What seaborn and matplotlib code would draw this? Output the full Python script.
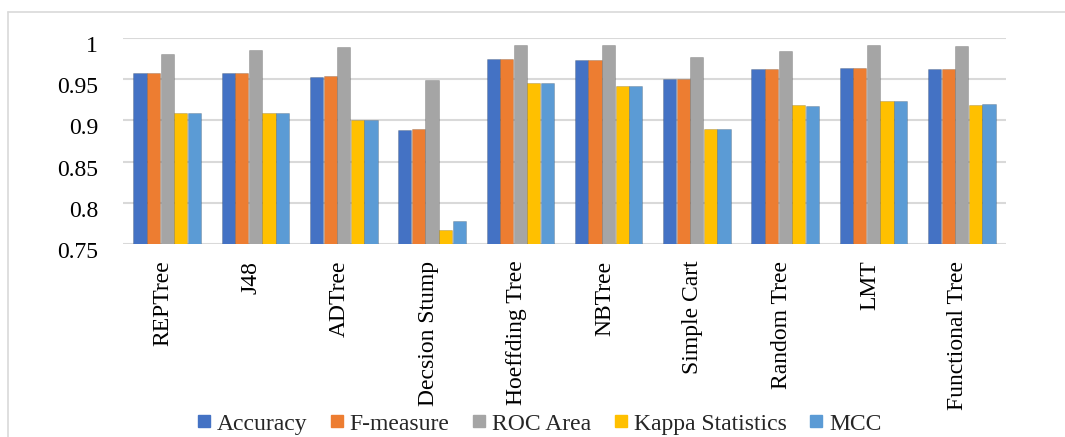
import matplotlib
matplotlib.use("Agg")
import matplotlib.pyplot as plt
import matplotlib.transforms as mtransforms
from matplotlib.lines import Line2D
import seaborn as sns
import pandas as pd

classifiers = ["REPTree", "J48", "ADTree", "Decsion Stump", "Hoeffding Tree",
               "NBTree", "Simple Cart", "Random Tree", "LMT", "Functional Tree"]
metrics = ["Accuracy", "F-measure", "ROC Area", "Kappa Statistics", "MCC"]

accuracy = [0.958, 0.958, 0.953, 0.888, 0.974, 0.973, 0.950, 0.963, 0.964, 0.963]
f_measure = [0.958, 0.958, 0.954, 0.890, 0.974, 0.973, 0.950, 0.963, 0.964, 0.963]
roc_area = [0.980, 0.985, 0.989, 0.949, 0.992, 0.991, 0.977, 0.984, 0.991, 0.990]
kappa = [0.909, 0.909, 0.900, 0.767, 0.945, 0.942, 0.890, 0.919, 0.923, 0.919]
mcc = [0.909, 0.909, 0.900, 0.778, 0.945, 0.942, 0.890, 0.918, 0.923, 0.920]

colors = ["#4472C4", "#ED7D31", "#A5A5A5", "#FFC000", "#5B9BD5"]

series = [accuracy, f_measure, roc_area, kappa, mcc]
df = pd.DataFrame(
    [(c, m, v) for m, vals in zip(metrics, series) for c, v in zip(classifiers, vals)],
    columns=["Classifier", "Metric", "Value"],
)

sns.set_theme(style="white")
plt.rcParams["font.family"] = ["Liberation Serif", "DejaVu Serif"]

fig = plt.figure(figsize=(10.65, 4.37), dpi=100)
ax = fig.add_axes([0.1155, 0.4416, 0.829, 0.4714])

sns.barplot(data=df, x="Classifier", y="Value", hue="Metric",
            order=classifiers, hue_order=metrics, palette=colors,
            saturation=1, width=0.77, gap=0.03, ax=ax, legend=False,
            edgecolor="#00000030", linewidth=0.6, zorder=3)

ax.set_ylim(0.75, 1.0)
ax.set_yticks([0.75, 0.8, 0.85, 0.9, 0.95, 1.0])
ax.set_yticklabels(["0.75", "0.8", "0.85", "0.9", "0.95", "1"])
ax.yaxis.grid(True, color="#d9d9d9", linewidth=1.5, zorder=0)
ax.set_axisbelow(True)
for s in ax.spines.values():
    s.set_visible(False)
ax.set_xlabel("")
ax.set_ylabel("")
ax.tick_params(axis="y", length=0, pad=18, labelsize=17, labelcolor="black")
ax.tick_params(axis="x", length=0, pad=12, labelsize=17, labelcolor="black")
for lbl in ax.get_yticklabels():
    lbl.set_fontfamily(["Liberation Serif", "DejaVu Serif"])
    lbl.set_transform(lbl.get_transform() +
                      mtransforms.ScaledTranslation(0, -6 / 100, fig.dpi_scale_trans))
for lbl in ax.get_xticklabels():
    lbl.set_rotation(90)
    lbl.set_va("top")
    lbl.set_ha("center")
    lbl.set_transform(lbl.get_transform() +
                      mtransforms.ScaledTranslation(-4 / 100, 0, fig.dpi_scale_trans))

handles = [Line2D([0], [0], marker="s", linestyle="", markersize=8,
                  markerfacecolor=c, markeredgecolor=c) for c in colors]
fig.legend(handles, metrics, loc="center", bbox_to_anchor=(0.506, 0.03),
           ncol=5, frameon=False, fontsize=17, handlelength=0.6,
           handletextpad=0.25, columnspacing=0.95, borderpad=0)

# thin outer frame on the left and top
fig.add_artist(Line2D([8 / 1065, 8 / 1065], [0, 1 - 12 / 437],
                      transform=fig.transFigure, color="#d9d9d9", linewidth=1.2))
fig.add_artist(Line2D([8 / 1065, 1], [1 - 12 / 437, 1 - 12 / 437],
                      transform=fig.transFigure, color="#d9d9d9", linewidth=1.2))

fig.savefig("out.png", dpi=100)
